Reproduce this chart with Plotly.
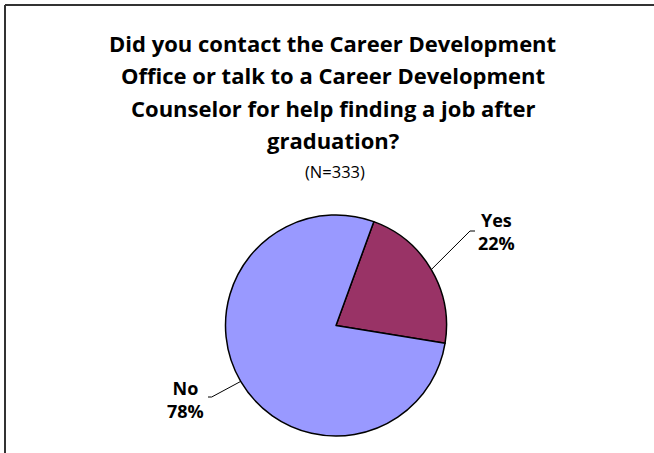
import math
import plotly.graph_objects as go

# ---- data ----
labels = ["Yes", "No"]
values = [22, 78]
colors = ["#993366", "#9999FF"]
title_lines = [
    "Did you contact the Career Development",
    "Office or talk to a Career Development",
    "Counselor for help finding a job after",
    "graduation?",
]
subtitle = "(N=333)"

W, H = 654, 453
CX, CY, R = 336, 325.5, 110.5
ROT = 20  # degrees, clockwise from 12 o'clock
FONT = "Open Sans"


def px(x):
    return x / W


def py(y):
    return 1 - y / H


fig = go.Figure()
fig.add_trace(go.Pie(
    labels=labels, values=values, sort=False, direction="clockwise",
    rotation=ROT, textinfo="none", hoverinfo="label+percent",
    marker=dict(colors=colors, line=dict(color="black", width=1.5)),
    domain=dict(x=[px(CX - R), px(CX + R)], y=[py(CY + R), py(CY - R)]),
    showlegend=False,
))

annotations = []
title_y = [42.5, 75, 107.5, 140]
for t, yy in zip(title_lines, title_y):
    annotations.append(dict(text="<b>%s</b>" % t, x=px(333), y=py(yy), xref="paper", yref="paper",
                            showarrow=False, xanchor="center", yanchor="middle",
                            font=dict(family=FONT, size=22, color="black")))
annotations.append(dict(text=subtitle, x=px(335), y=py(172), xref="paper", yref="paper",
                        showarrow=False, xanchor="center", yanchor="middle",
                        font=dict(family=FONT, size=16.5, color="black")))

# label placement (style): elbow point, end of leader, text centre
label_style = {
    "Yes": dict(elbow=(470, 231), end=(475, 231), text=(496.5, 232)),
    "No": dict(elbow=(211.7, 397), end=(208, 397), text=(185.5, 399)),
}

# frame: only the left and top edges are visible in the reference
shapes = [
    dict(type="line", xref="paper", yref="paper", x0=px(5), y0=py(5), x1=px(W), y1=py(5),
         line=dict(color="#333333", width=2)),
    dict(type="line", xref="paper", yref="paper", x0=px(5), y0=py(5), x1=px(5), y1=py(H),
         line=dict(color="#333333", width=2)),
]

total = sum(values)
start = ROT
for lab, v in zip(labels, values):
    span = v / total * 360
    mid = math.radians(start + span / 2)
    ex, ey = CX + R * math.sin(mid), CY - R * math.cos(mid)
    st = label_style[lab]
    (bx, by), (fx, fy), (tx, ty) = st["elbow"], st["end"], st["text"]
    shapes.append(dict(type="path", xref="paper", yref="paper",
                       path="M %f %f L %f %f L %f %f" % (px(ex), py(ey), px(bx), py(by), px(fx), py(fy)),
                       line=dict(color="black", width=1)))
    pct = round(v / total * 100)
    annotations.append(dict(text="<b>%s<br>%d%%</b>" % (lab, pct), x=px(tx), y=py(ty), xref="paper", yref="paper",
                            showarrow=False, xanchor="center", yanchor="middle",
                            font=dict(family=FONT, size=18, color="black")))
    start += span

fig.update_layout(
    width=W, height=H, margin=dict(l=0, r=0, t=0, b=0),
    paper_bgcolor="white", plot_bgcolor="white",
    annotations=annotations, shapes=shapes,
)
fig.write_html("out.html", config={"displayModeBar": False},
               post_script="document.body.style.margin='0';document.body.style.overflow='hidden';")
